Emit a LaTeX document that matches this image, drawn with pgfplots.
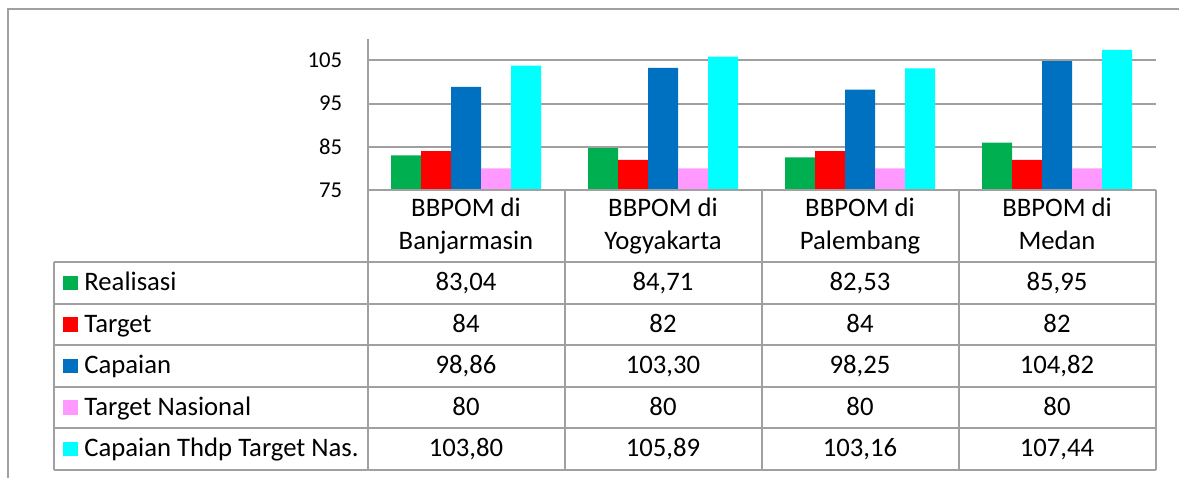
\documentclass[border=0pt]{standalone}
\usepackage{pgfplots}
\pgfplotsset{compat=1.18}
\usepackage{fontspec}
\setmainfont{Carlito}
\definecolor{cA}{HTML}{00B050}
\definecolor{cB}{HTML}{FF0000}
\definecolor{cC}{HTML}{0070C0}
\definecolor{cD}{HTML}{FF99FF}
\definecolor{cE}{HTML}{00FFFF}
\definecolor{gridc}{RGB}{160,160,160}
\newcommand{\tf}{\fontsize{13.4}{16.3}\selectfont}
\begin{document}
\begin{tikzpicture}
\begin{axis}[
  at={(183.75bp,144bp)}, anchor=south west,
  scale only axis, width=394bp, height=75.55bp,
  xmin=-0.5, xmax=3.5, ymin=75, ymax=110,
  axis x line=bottom, axis y line=left,
  axis line style={gridc, line width=1bp, -},
  xtick=\empty,
  ytick={75,85,95,105},
  ymajorgrids, grid style={gridc, line width=1bp},
  major tick length=0pt,
  /pgf/number format/assume math mode=true,
  yticklabel style={font=\fontsize{11.4}{13}\selectfont, inner sep=0pt, xshift=-12.5bp},
  ybar=0pt, bar width=0.1523,
]
\addplot[fill=cA, draw=none, bar shift=-0.3046] coordinates {(0,83.04) (1,84.71) (2,82.53) (3,85.95)};
\addplot[fill=cB, draw=none, bar shift=-0.1523] coordinates {(0,84) (1,82) (2,84) (3,82)};
\addplot[fill=cC, draw=none, bar shift=0] coordinates {(0,98.86) (1,103.30) (2,98.25) (3,104.82)};
\addplot[fill=cD, draw=none, bar shift=0.1523] coordinates {(0,80) (1,80) (2,80) (3,80)};
\addplot[fill=cE, draw=none, bar shift=0.3046] coordinates {(0,103.80) (1,105.89) (2,103.16) (3,107.44)};
\end{axis}
\begin{scope}[x=0.5bp,y=-0.5bp,shift={(0,-478)}]
 \path[use as bounding box] (0,0) rectangle (1179,478);
 \draw[gridc, line width=1bp] (8,478) -- (8,9.5) -- (1179,9.5);
 % table lines
 \draw[gridc, line width=1bp] (367.5,190) -- (1155.5,190);
 \foreach \y in {262.3,303.8,345.3,386.8,428.3,469.8}
   \draw[gridc, line width=1bp] (53.5,\y) -- (1155.5,\y);
 \draw[gridc, line width=1bp] (53.5,262.3) -- (53.5,469.8);
 \foreach \x in {367.5,564.5,761.5,958.5,1155.5}
   \draw[gridc, line width=1bp] (\x,190) -- (\x,469.8);
 % category labels
 \foreach \x/\n in {466/Banjarmasin,663/Yogyakarta,860/Palembang,1057/Medan}{
   \node[anchor=base, inner sep=0pt, font=\tf] at (\x,216.7) {BBPOM di};
   \node[anchor=base, inner sep=0pt, font=\tf] at (\x,249.3) {\n};
 }
 % legend column
 \foreach \c/\t/\y in {cA/Realisasi/283.05, cB/Target/324.55, cC/Capaian/366.05, cD/Target Nasional/407.55, cE/Capaian Thdp Target Nas./449.05}{
   \fill[\c] (62.7,\y-7.2) rectangle (77.7,\y+7.2);
   \node[anchor=base west, inner sep=0pt, font=\tf] at (84,\y+7.5) {\t};
 }
 % values
 \foreach \x/\v in {466/{83,04},663/{84,71},860/{82,53},1057/{85,95}}
   \node[anchor=base, inner sep=0pt, font=\tf] at (\x,283.05+7.5) {\v};
 \foreach \x/\v in {466/84,663/82,860/84,1057/82}
   \node[anchor=base, inner sep=0pt, font=\tf] at (\x,324.55+7.5) {\v};
 \foreach \x/\v in {466/{98,86},663/{103,30},860/{98,25},1057/{104,82}}
   \node[anchor=base, inner sep=0pt, font=\tf] at (\x,366.05+7.5) {\v};
 \foreach \x/\v in {466/80,663/80,860/80,1057/80}
   \node[anchor=base, inner sep=0pt, font=\tf] at (\x,407.55+7.5) {\v};
 \foreach \x/\v in {466/{103,80},663/{105,89},860/{103,16},1057/{107,44}}
   \node[anchor=base, inner sep=0pt, font=\tf] at (\x,449.05+7.5) {\v};
\end{scope}
\end{tikzpicture}
\end{document}
